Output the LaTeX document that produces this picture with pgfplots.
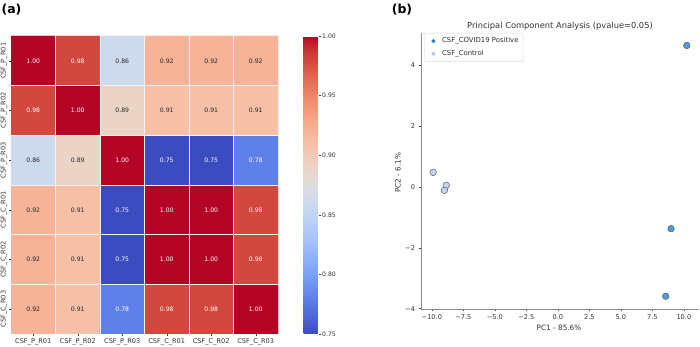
\documentclass[border=0pt]{standalone}
\usepackage{pgfplots}
\pgfplotsset{compat=1.18}
\usepackage{fontspec}
\setmainfont{DejaVu Sans}
\definecolor{txt}{RGB}{38,38,38}
\definecolor{lbl}{RGB}{50,50,50}
\definecolor{posfill}{RGB}{88,153,207}
\definecolor{ctlfill}{RGB}{197,213,237}
\definecolor{edgec}{RGB}{85,95,105}
\definecolor{poslg}{RGB}{31,119,180}
\definecolor{ctllg}{RGB}{174,199,232}
\pgfplotsset{
  colormap={coolwarm}{
    rgb255=(59,76,192) rgb255=(68,90,204) rgb255=(77,104,215) rgb255=(87,117,225)
    rgb255=(98,130,234) rgb255=(108,142,241) rgb255=(119,154,247) rgb255=(130,165,251)
    rgb255=(141,176,254) rgb255=(152,185,255) rgb255=(163,194,255) rgb255=(174,201,253)
    rgb255=(184,208,249) rgb255=(194,213,244) rgb255=(204,217,238) rgb255=(213,219,230)
    rgb255=(221,221,221) rgb255=(229,216,209) rgb255=(236,211,197) rgb255=(241,204,185)
    rgb255=(245,196,173) rgb255=(247,187,160) rgb255=(247,177,148) rgb255=(247,166,135)
    rgb255=(244,154,123) rgb255=(241,141,111) rgb255=(236,127,99) rgb255=(229,112,88)
    rgb255=(222,96,77) rgb255=(213,80,66) rgb255=(203,62,56) rgb255=(192,40,47)
    rgb255=(180,4,38)
  }
}
\newcommand{\fs}[1]{\fontsize{#1}{#1}\selectfont}
\begin{document}
\begin{tikzpicture}[x=1pt,y=1pt]
\useasboundingbox (0,0) rectangle (700,347);
% ---------------- heatmap ----------------
\begin{axis}[
  at={(11pt,13pt)}, anchor=south west,
  scale only axis, width=267pt, height=298pt,
  xmin=-0.5, xmax=5.5, ymin=-0.5, ymax=5.5,
  enlargelimits=false,
  colormap name=coolwarm,
  point meta min=0.75, point meta max=1,
  axis line style={draw=none},
  xtick={0,1,2,3,4,5},
  xticklabels={CSF\_P\_R01,CSF\_P\_R02,CSF\_P\_R03,CSF\_C\_R01,CSF\_C\_R02,CSF\_C\_R03},
  ytick={0,1,2,3,4,5},
  yticklabels={CSF\_C\_R03,CSF\_C\_R02,CSF\_C\_R01,CSF\_P\_R03,CSF\_P\_R02,CSF\_P\_R01},
  xtick pos=bottom, ytick pos=left,
  tick align=outside, major tick length=2.5pt,
  tick style={black!75, line width=0.5pt},
  xticklabel style={font=\fs{6.6}, text=lbl, inner sep=1.5pt},
  yticklabel style={font=\fs{6.6}, text=lbl, rotate=90, anchor=south, inner sep=1pt},
  minor xtick={0.5,1.5,2.5,3.5,4.5},
  minor ytick={0.5,1.5,2.5,3.5,4.5},
  minor tick length=0pt,
  xminorgrids=true, yminorgrids=true,
  minor grid style={white!90!gray, line width=0.7pt},
  axis on top,
  colorbar,
  colorbar style={
    at={(parent axis.north east)}, anchor=north west, xshift=17pt,
    width=15pt,
    axis line style={draw=none},
    ytick={0.75,0.8,0.85,0.9,0.95,1.0},
    ytick pos=right,
    tick align=outside, major tick length=2pt,
    tick style={black!75, line width=0.5pt},
    yticklabel style={font=\fs{6.1}, text=lbl, inner sep=1.5pt,
      /pgf/number format/.cd, fixed, fixed zerofill, precision=2, assume math mode=true},
  },
]
\addplot[matrix plot*, mesh/cols=6, point meta=explicit] table[meta=c] {
x y c
0 0 0.92
1 0 0.91
2 0 0.78
3 0 0.98
4 0 0.98
5 0 1.00
0 1 0.92
1 1 0.91
2 1 0.75
3 1 1.00
4 1 1.00
5 1 0.98
0 2 0.92
1 2 0.91
2 2 0.75
3 2 1.00
4 2 1.00
5 2 0.98
0 3 0.86
1 3 0.89
2 3 1.00
3 3 0.75
4 3 0.75
5 3 0.78
0 4 0.98
1 4 1.00
2 4 0.89
3 4 0.91
4 4 0.91
5 4 0.91
0 5 1.00
1 5 0.98
2 5 0.86
3 5 0.92
4 5 0.92
5 5 0.92
};
\addplot[only marks, mark=none, point meta=explicit symbolic, nodes near coords,
  nodes near coords align={center},
  every node near coord/.append style={font=\fs{6.1}, text=white}] table[meta=t] {
x y t
2 0 0.78
3 0 0.98
4 0 0.98
5 0 1.00
2 1 0.75
3 1 1.00
4 1 1.00
5 1 0.98
2 2 0.75
3 2 1.00
4 2 1.00
5 2 0.98
2 3 1.00
3 3 0.75
4 3 0.75
5 3 0.78
0 4 0.98
1 4 1.00
0 5 1.00
1 5 0.98
};
\addplot[only marks, mark=none, point meta=explicit symbolic, nodes near coords,
  nodes near coords align={center},
  every node near coord/.append style={font=\fs{6.1}, text=txt}] table[meta=t] {
x y t
0 0 0.92
1 0 0.91
0 1 0.92
1 1 0.91
0 2 0.92
1 2 0.91
0 3 0.86
1 3 0.89
2 4 0.89
3 4 0.91
4 4 0.91
5 4 0.91
2 5 0.86
3 5 0.92
4 5 0.92
5 5 0.92
};
\end{axis}
% ---------------- PCA ----------------
\begin{axis}[
  at={(421pt,38pt)}, anchor=south west,
  scale only axis, width=278pt, height=276pt,
  xmin=-10.86, xmax=11.2, ymin=-4.01, ymax=5.06,
  axis x line*=bottom, axis y line*=left,
  axis line style={black!45, line width=0.8pt},
  xtick={-10,-7.5,-5,-2.5,0,2.5,5,7.5,10},
  xticklabels={−10.0,−7.5,−5.0,−2.5,0.0,2.5,5.0,7.5,10.0},
  ytick={-4,-2,0,2,4},
  yticklabels={−4,−2,0,2,4},
  tick align=outside, major tick length=2.5pt,
  tick style={black!75, line width=0.5pt},
  ticklabel style={font=\fs{6.6}, text=lbl},
  legend style={at={(0.011,1)}, anchor=north west, draw=black!15,
    rounded corners=1pt, font=\fs{6.9}, text=lbl, row sep=2pt, inner sep=2.5pt},
  legend cell align=left,
  clip=false,
]
\addlegendimage{legend image code/.code={\path (0pt,0pt) (13pt,0pt);
    \fill[poslg] (6.5pt,0pt) circle (1.8pt);}}
\addlegendentry{CSF\_COVID19 Positive}
\addlegendimage{legend image code/.code={\path (0pt,0pt) (13pt,0pt);
    \fill[ctllg] (6.5pt,0pt) circle (1.8pt);}}
\addlegendentry{CSF\_Control}
\addplot[only marks, mark=*, mark size=3.3pt,
  mark options={fill=posfill, draw=edgec, line width=0.5pt}, forget plot] coordinates {
(10.23,4.65) (8.98,-1.37) (8.56,-3.59)
};
\addplot[only marks, mark=*, mark size=3.3pt,
  mark options={fill=ctlfill, draw=edgec, line width=0.5pt}, forget plot] coordinates {
(-9.9,0.48) (-8.86,0.05) (-9.0,-0.11)
};
\end{axis}
% ---------------- texts ----------------
\node[font=\bfseries\fs{12.5}] at (11.5,337) {(a)};
\node[font=\bfseries\fs{12.5}] at (402,337) {(b)};
\node[font=\fs{8.3}, text=lbl] at (560,321) {Principal Component Analysis (pvalue=0.05)};
\node[font=\fs{7.3}, text=lbl] at (559,19) {PC1 - 85.6\%};
\node[font=\fs{7.3}, text=lbl, rotate=90] at (398,174) {PC2 - 6.1\%};
\end{tikzpicture}
\end{document}
